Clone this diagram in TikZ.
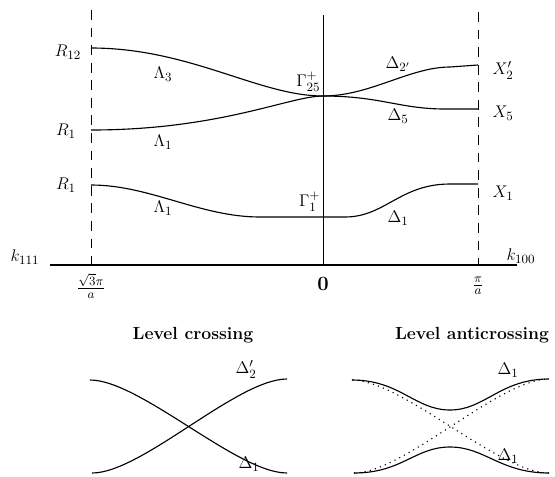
\documentclass[tikz,border=0pt]{standalone}
\usepackage{amsmath, amssymb}
\usepackage{xcolor}
\usepackage{tikz}
\usetikzlibrary{
  arrows.meta,
  positioning,
  calc,
}

\begin{document}
\begin{tikzpicture}[x=0.025cm, y=-0.025cm,
    font=\fontsize{12.5}{15}\selectfont,
    band/.style={line width=0.8pt},
    zoneedge/.style={line width=0.65pt, dash pattern=on 7pt off 5.5pt},
    diabatic/.style={line width=0.8pt, dash pattern=on 0.8pt off 3pt}]
  \useasboundingbox (0,0) rectangle (555,476);

  % axes
  \coordinate (kL) at (50,265);
  \coordinate (kR) at (517,265);
  \coordinate (zL) at (91,265);
  \coordinate (zR) at (478,265);
  \coordinate (g0) at (323,265);
  \draw[line width=0.9pt] (kL) -- (kR);
  \draw[zoneedge] (91,10) -- (zL);
  \draw[zoneedge] (478,12) -- (zR);
  \draw[line width=0.6pt] (323,15) -- (g0);
  \node (k111) at (25,257) {$k_{111}$};
  \node (k100) at (521,256) {$k_{100}$};
  \node (fL) at (91,286) {$\frac{\sqrt{3}\pi}{a}$};
  \node (f0) at (323,284) {\fontsize{14.5}{16}\selectfont$\mathbf{0}$};
  \node (fR) at (478,286) {$\frac{\pi}{a}$};

  % band end points
  \coordinate (R12) at (91,48);
  \coordinate (R1a) at (91,130);
  \coordinate (R1b) at (91,185);
  \coordinate (G25) at (323,96);
  \coordinate (G1) at (323,217);
  \coordinate (X2) at (478,65);
  \coordinate (X5) at (478,109);
  \coordinate (X1) at (478,184);

  % bands
  \draw[band] (R12) .. controls (190,48) and (259,96) .. (G25);
  \draw[band] (R1a) .. controls (220,130) and (290,96) .. (G25);
  \draw[band] (R1b) .. controls (150,185) and (200,217) .. (260,217) -- (G1);
  \draw[band] (G25) .. controls (370,96) and (410,67) .. (450,67) -- (X2);
  \draw[band] (G25) .. controls (380,96) and (400,109) .. (445,109) -- (X5);
  \draw[band] (G1) -- (345,217) .. controls (385,217) and (400,184) .. (450,184) -- (X1);

  % labels
  \node (lR12) at (68,52)  {$R_{12}$};
  \node (lR1a) at (66,131) {$R_1$};
  \node (lR1b) at (66,185) {$R_1$};
  \node (lL3)  at (163,74)  {$\Lambda_3$};
  \node (lL1a) at (163,142) {$\Lambda_1$};
  \node (lL1b) at (163,208) {$\Lambda_1$};
  \node[anchor=east, inner xsep=1pt] (lG25) at (322,82)  {$\Gamma_{25}^+$};
  \node[anchor=east, inner xsep=1pt] (lG1)  at (322,202) {$\Gamma_1^+$};
  \node (lD2)  at (398,64)  {$\Delta_{2'}$};
  \node (lD5)  at (398,116) {$\Delta_5$};
  \node (lD1)  at (398,218) {$\Delta_1$};
  \node (lX2)  at (503,70)  {$X_2'$};
  \node (lX5)  at (503,113) {$X_5$};
  \node (lX1)  at (503,193) {$X_1$};

  % level crossing
  \node[font=\fontsize{12.5}{15}\bfseries] (cross) at (193,335) {Level crossing};
  \coordinate (cA) at (90,380);
  \coordinate (cB) at (287,473);
  \coordinate (cC) at (92,473);
  \coordinate (cD) at (287,379);
  \draw[band] (cA) .. controls (140,380) and (237,473) .. (cB);
  \draw[band] (cC) .. controls (142,473) and (237,379) .. (cD);
  \node (cD2) at (246,369) {$\Delta_2'$};
  \node (cD1) at (249,464) {$\Delta_1$};

  % level anticrossing
  \node[font=\fontsize{12.5}{15}\bfseries] (anti) at (472,335) {Level anticrossing};
  \coordinate (aA) at (352,380);
  \coordinate (aB) at (549,473);
  \coordinate (aC) at (354,473);
  \coordinate (aD) at (549,379);
  \draw[diabatic] (aA) .. controls (402,380) and (499,473) .. (aB);
  \draw[diabatic] (aC) .. controls (404,473) and (499,379) .. (aD);
  \draw[band] (aA) .. controls (400,380) and (415,410) .. (450,410)
    .. controls (485,410) and (500,379) .. (aD);
  \draw[band] (aC) .. controls (402,473) and (415,447) .. (450,447)
    .. controls (485,447) and (500,473) .. (aB);
  \node (aD1u) at (508,370) {$\Delta_1$};
  \node (aD1l) at (508,456) {$\Delta_1$};
\end{tikzpicture}
\end{document}
